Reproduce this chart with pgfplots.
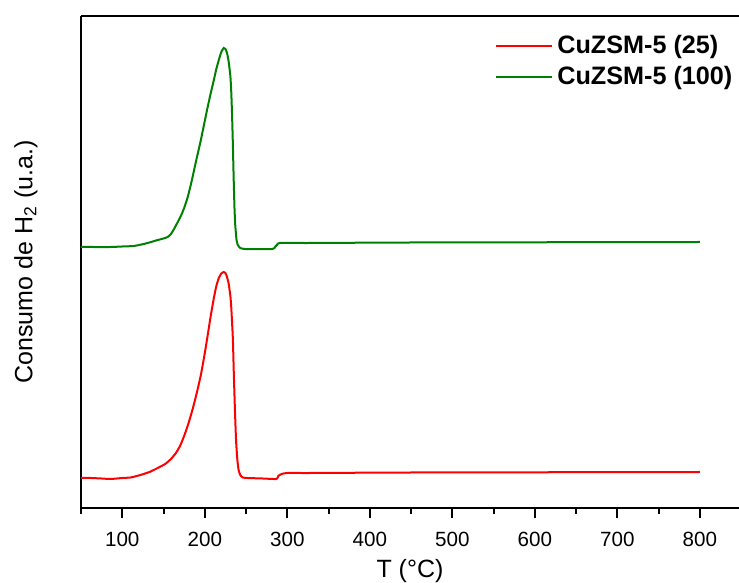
\documentclass[border=0pt]{standalone}
\usepackage{fontspec}
\setmainfont{Liberation Sans}
\usepackage{pgfplots}
\pgfplotsset{compat=1.18}
\definecolor{myred}{RGB}{255,0,0}
\definecolor{mygreen}{RGB}{0,128,0}
\begin{document}
\begin{tikzpicture}
\begin{axis}[
  at={(0,0)}, anchor=south west,
  scale only axis,
  width=329pt, height=246pt,
  xmin=50, xmax=847.4, ymin=0, ymax=492,
  axis x line*=box, axis y line*=left,
  axis line style={line width=1pt},
  xtick={100,200,...,800},
  minor xtick={50,150,...,850},
  xtick pos=bottom,
  ytick=\empty,
  tick align=outside,
  major tick length=5pt, minor tick length=3pt,
  every tick/.style={black, line width=1pt},
  /pgf/number format/assume math mode=true,
  ticklabel style={font=\fontsize{10.3}{12}\selectfont},
  xticklabel style={yshift=-3.5pt},
  xlabel={T (°C)},
  ylabel={Consumo de H\textsubscript{2} (u.a.)},
  label style={font=\fontsize{12.5}{14}\selectfont},
  xlabel style={at={(axis description cs:0.5,-0.128)}, anchor=center},
  ylabel style={at={(axis description cs:-0.0836,0.5)}, anchor=center, rotate=0},
  legend style={draw=none, fill=none, at={(axis description cs:0.62,0.978)}, anchor=north west,
    font=\bfseries\fontsize{12.6}{14}\selectfont, row sep=1pt},
  legend cell align=left,
  legend image code/.code={\draw[#1] (0pt,0pt) -- (28pt,0pt);},
]
\addplot[myred, line width=1pt, smooth, tension=0.3] coordinates {
(50,30) (62,30) (75,29.5) (86,29) (100,30) (110,30.5) (122,33) (133,36) (143,40)
(152,44) (159,49) (165,55) (170,62) (175,72) (180,84) (185,98) (190,114)
(195,132) (199,150) (203,170) (207,191) (211,210) (214,222) (217,230) (220,234.5)
(223,236) (225,235) (227,231) (229,224) (231,212) (232,202) (234,170) (235,140)
(236,112) (237,87) (238,66) (239.5,48) (241,38) (243,33) (246,30.5) (252,30)
(270,29.5) (287,29) (289,32) (293,34) (300,35) (328,35) (450,35.5) (800,36)
};
\addlegendentry{CuZSM-5 (25)}
\addplot[mygreen, line width=1pt, smooth, tension=0.3] coordinates {
(50,261) (62,261) (86,261) (100,261.5) (114,262) (126,264) (135,266) (143,268)
(150,269.5) (155,271) (159,274) (162,278) (166,284) (171,292) (175,300) (179,310)
(183,323) (186,334) (190,349) (195,367) (199,383) (203,399) (207,414) (211,428)
(214,439) (217,448) (220,456) (223,460) (225,459) (227,455) (229,446) (231,432)
(232,418) (233,395) (234,365) (235,330) (236,300) (237,282) (238.5,268) (240,263)
(243,260) (249,259) (282,259) (285,261) (288,263.5) (291,265) (328,265) (450,265.5) (800,266)
};
\addlegendentry{CuZSM-5 (100)}
\end{axis}
\pgfresetboundingbox
\path[use as bounding box] (-40.5pt,-37.5pt) rectangle (329pt,254pt);
\end{tikzpicture}
\end{document}
